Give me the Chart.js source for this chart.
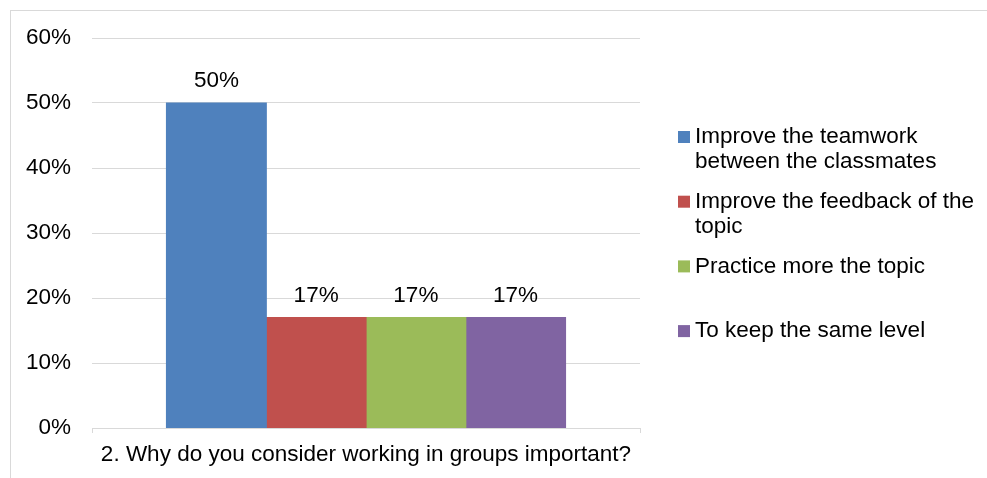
<!DOCTYPE html>
<html>
<head>
<meta charset="utf-8">
<script src="https://cdn.jsdelivr.net/npm/chart.js@4/dist/chart.umd.min.js"></script>
<style>
  html, body { margin: 0; padding: 0; background: #fff; }
  #wrap { width: 987px; height: 478px; }
</style>
</head>
<body>
<div id="wrap"><canvas id="c" width="987" height="478"></canvas></div>
<script>
// Survey question and answer shares (percent)
const question = '2. Why do you consider working in groups important?';
const answers = [
  'Improve the teamwork between the classmates',
  'Improve the feedback of the topic',
  'Practice more the topic',
  'To keep the same level'
];
const shares = [50, 17, 17, 17];
const answerColors = ['#4f81bd', '#c0504d', '#9bbb59', '#8064a2'];
const yTicks = [0, 10, 20, 30, 40, 50, 60];

const FONT = '"Liberation Sans", Arial, sans-serif';
const FONT_SIZE = 22.5;
const GRID = '#d9d9d9';

// Light frame around the whole chart
const framePlugin = {
  id: 'frame',
  beforeDraw(chart) {
    const ctx = chart.ctx;
    ctx.save();
    ctx.strokeStyle = GRID;
    ctx.lineWidth = 1;
    ctx.strokeRect(10.5, 10.5, chart.width + 20, chart.height + 20);
    ctx.restore();
  }
};

// Percent labels above every bar
const valueLabels = {
  id: 'valueLabels',
  afterDatasetsDraw(chart) {
    const ctx = chart.ctx;
    ctx.save();
    ctx.font = FONT_SIZE + 'px ' + FONT;
    ctx.fillStyle = '#000';
    ctx.textAlign = 'center';
    ctx.textBaseline = 'middle';
    chart.data.datasets.forEach((ds, i) => {
      chart.getDatasetMeta(i).data.forEach((bar, j) => {
        ctx.fillText(ds.data[j] + '%', bar.x, bar.y - 22);
      });
    });
    ctx.restore();
  }
};

// Right-hand legend with wrapped entry text
const sideLegend = {
  id: 'sideLegend',
  afterDraw(chart) {
    const ctx = chart.ctx;
    const left = chart.chartArea.right + 38;
    const textX = left + 17;
    const maxW = 284;
    const firstY = 137;
    const step = 64.7;
    const lineH = 25;
    ctx.save();
    ctx.font = FONT_SIZE + 'px ' + FONT;
    ctx.textBaseline = 'middle';
    ctx.textAlign = 'left';
    chart.data.datasets.forEach((ds, i) => {
      const y = firstY + i * step;
      ctx.fillStyle = ds.backgroundColor;
      ctx.fillRect(left, y - 6, 12, 12);
      const words = ds.label.split(' ');
      const lines = [];
      let cur = '';
      words.forEach(w => {
        const t = cur ? cur + ' ' + w : w;
        if (ctx.measureText(t).width > maxW && cur) { lines.push(cur); cur = w; }
        else cur = t;
      });
      if (cur) lines.push(cur);
      ctx.fillStyle = '#000';
      lines.forEach((ln, k) => ctx.fillText(ln, textX, y + k * lineH));
    });
    ctx.restore();
  }
};

new Chart(document.getElementById('c'), {
  type: 'bar',
  data: {
    labels: [question],
    datasets: answers.map((a, i) => ({
      label: a,
      data: [shares[i]],
      backgroundColor: answerColors[i],
      borderWidth: 0,
      inflateAmount: 0.6
    }))
  },
  options: {
    responsive: false,
    animation: false,
    devicePixelRatio: 1,
    layout: { padding: { top: 38, right: 347, left: 0, bottom: 0 } },
    datasets: { bar: { barPercentage: 1, categoryPercentage: 0.728 } },
    plugins: { legend: { display: false }, tooltip: { enabled: false } },
    scales: {
      x: {
        afterFit(s) { s.height = 50; },
        grid: { drawOnChartArea: false, drawTicks: true, tickLength: 5, color: GRID, lineWidth: 1 },
        border: { display: true, color: GRID, width: 1 },
        ticks: { color: '#000', padding: 8, font: { family: FONT, size: FONT_SIZE } }
      },
      y: {
        min: 0,
        max: 60,
        afterFit(s) { s.width = 92; },
        afterBuildTicks(s) { s.ticks = yTicks.map(v => ({ value: v })); },
        grid: { color: GRID, lineWidth: 1, drawTicks: false },
        border: { display: false },
        ticks: {
          color: '#000',
          padding: 21,
          font: { family: FONT, size: FONT_SIZE },
          callback: v => v + '%'
        }
      }
    }
  },
  plugins: [framePlugin, valueLabels, sideLegend]
});
</script>
</body>
</html>
